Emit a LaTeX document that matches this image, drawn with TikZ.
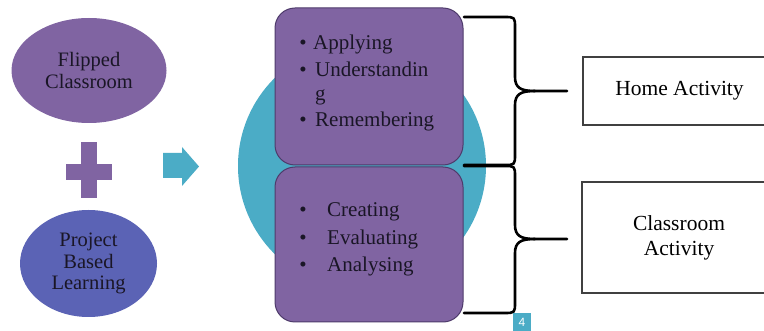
\documentclass[tikz,border=0pt]{standalone}
\usepackage{fontspec}
\setmainfont{Liberation Serif}
\newfontfamily\timesfont{Liberation Serif}
\newfontfamily\pagefont{Liberation Sans}
\usetikzlibrary{shapes.geometric}
\definecolor{flipviolet}{HTML}{8064A2}
\definecolor{pblblue}{HTML}{5B63B5}
\definecolor{tealcirc}{HTML}{4BACC6}
\definecolor{boxedge}{HTML}{4E3B6B}
\definecolor{inktext}{HTML}{1A1626}

\begin{document}
\begin{tikzpicture}[x=1pt,y=-1pt,
    oval/.style={ellipse, inner sep=0pt, align=center, text=inktext,
        font=\timesfont\fontsize{20.5}{21.5}\selectfont},
    levelbox/.style={draw=boxedge, fill=flipviolet, line width=1pt, rounded corners=20pt,
        minimum width=188pt, inner sep=0pt},
    item/.style={anchor=base west, inner sep=0pt, text=inktext, font=\timesfont\fontsize{21}{26}\selectfont},
    dot/.style={anchor=base, inner sep=0pt, text=inktext, font=\timesfont\fontsize{21}{26}\selectfont},
    actbox/.style={draw=black!75, line width=1.2pt, fill=white, inner sep=0pt, align=center,
        font=\timesfont\fontsize{21.5}{25}\selectfont},
    bracestroke/.style={line width=2.6pt, line join=round, line cap=round}]
    \clip (0,0) rectangle (764,331);
    \fill[white] (0,0) rectangle (764,331);

    % Draw the two approaches
    \node[oval, fill=flipviolet, minimum width=155pt, minimum height=105pt] (flip) at (89,70.5) {Flipped\\Classroom};
    \node[oval, fill=pblblue, minimum width=137pt, minimum height=107pt] (pbl) at (88.5,263.5) {Project\\Based\\Learning};

    % Plus sign and arrow
    \fill[flipviolet] (81,142) rectangle (97,198);
    \fill[flipviolet] (66,164) rectangle (112,180);
    \fill[tealcirc] (163,153) -- (182,153) -- (182,147) -- (199,166.5) -- (182,186) -- (182,178) -- (163,178) -- cycle;

    % Circle behind the levels
    \fill[tealcirc] (362,166) circle[radius=124];
    \node[levelbox, minimum height=157pt] (lower) at (369,86.5) {};
    \node[levelbox, minimum height=155pt] (higher) at (369,244.5) {};

    % Lower order thinking
    \foreach \y in {50,77,127} \node[dot] at (303,\y) {\textbullet};
    \node[item] (apply) at (313,50) {Applying};
    \node[item] (understand) at (315,77) {Understandin};
    \node[item] (understandg) at (315,101) {g};
    \node[item] (remember) at (315,127) {Remembering};

    % Higher order thinking
    \foreach \y in {217,245,272} \node[dot] at (303,\y) {\textbullet};
    \node[item] (create) at (327,217) {Creating};
    \node[item] (evaluate) at (327,245) {Evaluating};
    \node[item] (analyse) at (327,272) {Analysing};

    % Activities
    \node[actbox, minimum width=193pt, minimum height=68pt] (home) at (679.5,91) {Home Activity};
    \node[actbox, minimum width=194pt, minimum height=111pt] (classact) at (679,237.5) {Classroom\\Activity};

    % Braces
    \foreach \ya/\yb/\ym in {17/165/91, 166/313/239} {
        \draw[bracestroke] (464,\ya) -- (504,\ya) .. controls (515,\ya) .. (515,\ya+11) -- (515,\ym-14)
            .. controls (515,\ym-3) and (521,\ym) .. (535,\ym) -- (567,\ym);
        \draw[bracestroke] (535,\ym) .. controls (521,\ym) and (515,\ym+3) .. (515,\ym+14) -- (515,\yb-11)
            .. controls (515,\yb) .. (504,\yb) -- (464,\yb);
    }

    % Page number
    \node[fill=tealcirc, text=white, minimum size=18pt, inner sep=0pt, font=\pagefont\fontsize{12}{12}\selectfont] (page) at (522,322) {4};
\end{tikzpicture}
\end{document}
